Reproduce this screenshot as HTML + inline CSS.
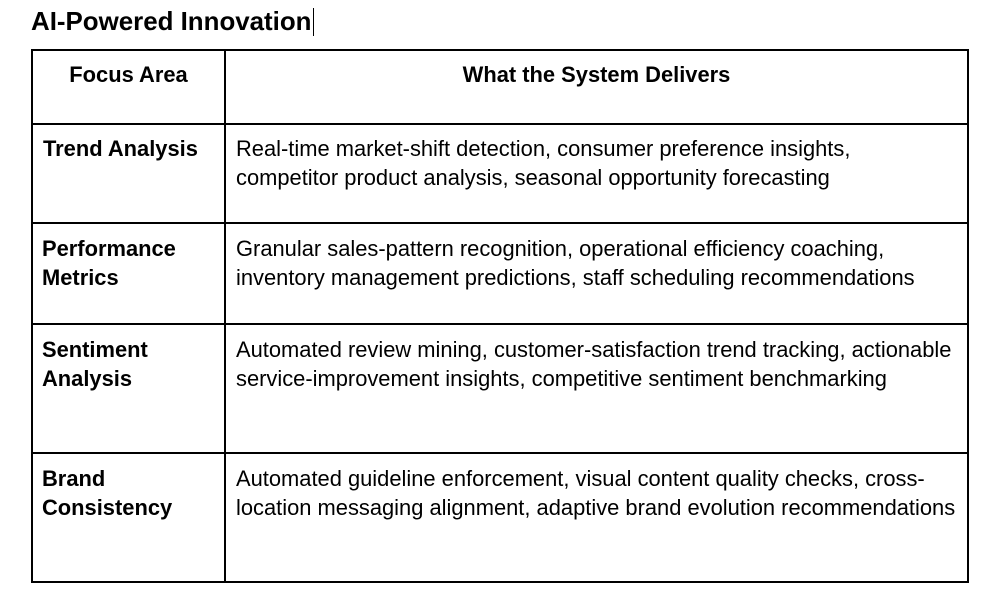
<!DOCTYPE html>
<html><head><meta charset="utf-8"><style>
body{margin:0;width:985px;height:606px;background:#fff;position:relative;font-family:"Liberation Sans",Arial,sans-serif;color:#000;overflow:hidden}
.t{position:absolute;white-space:nowrap;font-size:21.9px;line-height:29px}
.b{font-weight:bold}
.h{position:absolute;background:#000}
</style></head><body>
<div class="t b" style="left:31px;top:6px;font-size:25.9px;line-height:32px">AI-Powered Innovation</div>
<div class="h" style="left:313px;top:8px;width:1px;height:28px"></div>
<div class="h" style="left:31px;top:49px;width:938px;height:2px"></div>
<div class="h" style="left:31px;top:123px;width:938px;height:2px"></div>
<div class="h" style="left:31px;top:222px;width:938px;height:2px"></div>
<div class="h" style="left:31px;top:323px;width:938px;height:2px"></div>
<div class="h" style="left:31px;top:452px;width:938px;height:2px"></div>
<div class="h" style="left:31px;top:581px;width:938px;height:2px"></div>
<div class="h" style="left:31px;top:49px;width:2px;height:534px"></div>
<div class="h" style="left:224px;top:49px;width:2px;height:534px"></div>
<div class="h" style="left:967px;top:49px;width:2px;height:534px"></div>
<div class="t b" style="left:33px;width:191px;text-align:center;top:60px">Focus Area</div>
<div class="t b" style="left:226px;width:741px;text-align:center;top:60px">What the System Delivers</div>
<div class="t b" style="left:43px;top:134px">Trend Analysis</div>
<div class="t" style="left:236px;top:134px">Real-time market-shift detection, consumer preference insights,<br>competitor product analysis, seasonal opportunity forecasting</div>
<div class="t b" style="left:42px;top:234px">Performance<br>Metrics</div>
<div class="t" style="left:236px;top:234px">Granular sales-pattern recognition, operational efficiency coaching,<br>inventory management predictions, staff scheduling recommendations</div>
<div class="t b" style="left:42px;top:335px">Sentiment<br>Analysis</div>
<div class="t" style="left:236px;top:335px">Automated review mining, customer-satisfaction trend tracking, actionable<br>service-improvement insights, competitive sentiment benchmarking</div>
<div class="t b" style="left:42px;top:464px">Brand<br>Consistency</div>
<div class="t" style="left:236px;top:464px">Automated guideline enforcement, visual content quality checks, cross-<br>location messaging alignment, adaptive brand evolution recommendations</div>
</body></html>
